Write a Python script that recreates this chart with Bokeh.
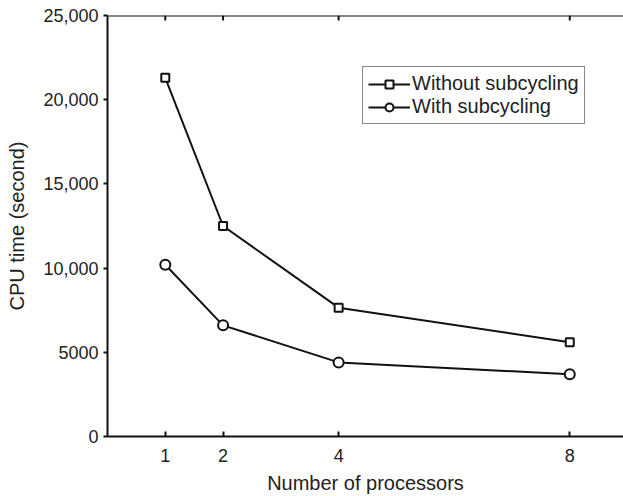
from bokeh.plotting import figure
from bokeh.models import Range1d, LinearAxis, FixedTicker, Legend, LegendItem, Span
from bokeh.embed import file_html
from bokeh.resources import INLINE

# CPU time versus number of processors
processors = [1, 2, 4, 8]
without_subcycling = [21300, 12500, 7650, 5600]
with_subcycling = [10200, 6600, 4400, 3700]

y_ticks = [0, 5000, 10000, 15000, 20000, 25000]
y_tick_labels = ["0", "5000", "10,000", "15,000", "20,000", "25,000"]

FONT = "Liberation Sans"
INK = "#111111"

Y0, Y1 = 0, 25000
FRAME_H = 420          # frame height in px (496 - 15 top - 61 bottom)
TICK_PX = 5            # inward tick length on the top edge

p = figure(
    width=623, height=496,
    output_backend="svg", toolbar_location=None,
    x_range=Range1d(0, 8.93), y_range=Range1d(Y0, Y1),
    x_axis_location=None, y_axis_location=None,
    min_border_left=107, min_border_right=0,
    min_border_top=15, min_border_bottom=0,
)
p.outline_line_color = None
p.xgrid.visible = False
p.ygrid.visible = False
p.background_fill_color = "white"
p.border_fill_color = "white"


def style_axis(ax):
    ax.axis_line_width = 2
    ax.axis_line_color = INK
    ax.major_tick_line_width = 2
    ax.major_tick_line_color = INK
    ax.minor_tick_line_color = None
    ax.major_label_text_font = FONT
    ax.major_label_text_color = "#222222"
    ax.axis_label_text_font = FONT
    ax.axis_label_text_font_style = "normal"
    ax.axis_label_text_color = "#222222"


# left axis
yax = LinearAxis(ticker=FixedTicker(ticks=y_ticks))
yax.major_label_overrides = {t: s for t, s in zip(y_ticks, y_tick_labels)}
style_axis(yax)
yax.major_tick_in = 0
yax.major_tick_out = 4
yax.major_label_standoff = 5
yax.major_label_text_font_size = "18px"
yax.axis_label = "CPU time (second)"
yax.axis_label_text_font_size = "20px"
yax.axis_label_standoff = 12
p.add_layout(yax, "left")

# bottom axis
xax = LinearAxis(ticker=FixedTicker(ticks=processors))
style_axis(xax)
xax.major_tick_in = 5
xax.major_tick_out = 0
xax.major_label_standoff = 12
xax.major_label_text_font_size = "18px"
xax.axis_label = "Number of processors"
xax.axis_label_text_font_size = "20px"
xax.axis_label_standoff = 7
p.add_layout(xax, "below")

# top edge of the box with inward ticks at the processor counts
p.add_layout(Span(location=Y1, dimension="width", line_color=INK, line_width=2))
tick_len = (Y1 - Y0) * TICK_PX / FRAME_H
p.segment(x0=processors, y0=[Y1] * len(processors),
          x1=processors, y1=[Y1 - tick_len] * len(processors),
          line_color=INK, line_width=2)

# series
l1 = p.line(processors, without_subcycling, line_color=INK, line_width=2)
s1 = p.scatter(processors, without_subcycling, marker="square", size=8,
               fill_color="white", line_color=INK, line_width=2)
l2 = p.line(processors, with_subcycling, line_color=INK, line_width=2)
s2 = p.scatter(processors, with_subcycling, marker="circle", size=10,
               fill_color="white", line_color=INK, line_width=2)

legend = Legend(
    items=[
        LegendItem(label="Without subcycling", renderers=[l1, s1]),
        LegendItem(label="With subcycling", renderers=[l2, s2]),
    ],
    location=(255, 312),
    border_line_color=INK, border_line_width=1,
    background_fill_color="white", background_fill_alpha=1,
    label_text_font=FONT, label_text_font_size="20px", label_text_color="#222222",
    glyph_width=42, glyph_height=20, label_height=20,
    label_standoff=2, padding=5, spacing=0, margin=0,
)
p.add_layout(legend, "center")

open("out.html", "w").write(file_html(p, INLINE))
